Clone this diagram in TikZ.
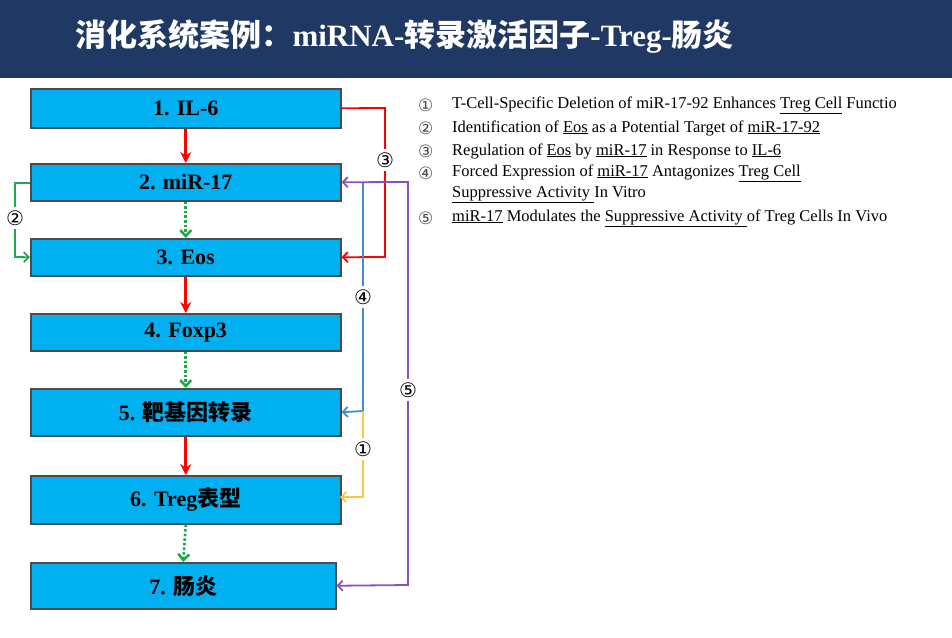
\documentclass[tikz,border=0pt]{standalone}
\usepackage{fontspec}
\setmainfont{Liberation Serif}
\newfontfamily\cjk{Noto Sans CJK SC}
\newfontfamily\dv{DejaVu Sans}
\usetikzlibrary{arrows.meta}
\definecolor{navy}{RGB}{31,56,100}
\definecolor{boxc}{RGB}{0,176,240}
\definecolor{bl}{RGB}{70,140,210}
\definecolor{yl}{RGB}{250,200,60}
\definecolor{pu}{RGB}{140,80,190}
\definecolor{gn}{RGB}{30,170,70}
\begin{document}
\begin{tikzpicture}[x=1pt,y=-1pt,
  bx/.style={draw=black!70,line width=1.5pt,fill=boxc,anchor=north west,inner sep=0pt,font=\fontsize{22}{24}\selectfont\bfseries},
  circ/.style={font=\dv\fontsize{20}{20}\selectfont},
  lg/.style={anchor=west,font=\fontsize{16.5}{17}\selectfont,inner sep=0pt},
  ln/.style={anchor=west,font=\dv\fontsize{17}{17}\selectfont\color{black!70},inner sep=0pt},
  ar/.style={-{Stealth[length=11pt,width=11pt]},line width=2.6pt,red},
  gr/.style={-{Straight Barb[length=6pt,width=11pt]},line width=2.6pt,dotted,gn},
  fb/.style={-{Straight Barb[length=5pt,width=10pt]},line width=1.8pt}]
\useasboundingbox (0,0) rectangle (952,637);
\fill[white] (0,0) rectangle (952,637);
\fill[navy] (0,0) rectangle (952,78);
\node[anchor=west,text=white,font=\cjk\fontsize{31}{33}\selectfont\bfseries] (title) at (72,36) {消化系统案例：\rmfamily\bfseries miRNA-\cjk 转录激活因子\rmfamily\bfseries -Treg-\cjk 肠炎};
\node[bx,minimum width=310pt,minimum height=39pt] (b1) at (30,88) {1. IL-6};
\node[bx,minimum width=310pt,minimum height=37pt] (b2) at (30,163) {2. miR-17};
\node[bx,minimum width=310pt,minimum height=37pt] (b3) at (30,238) {3. Eos};
\node[bx,minimum width=310pt,minimum height=37pt] (b4) at (30,313) {4. Foxp3};
\node[bx,minimum width=310pt,minimum height=47pt] (b5) at (30,388) {5. \cjk 靶基因转录};
\node[bx,minimum width=310pt,minimum height=48pt] (b6) at (30,475) {6. Treg\cjk 表型};
\node[bx,minimum width=305pt,minimum height=46pt] (b7) at (30,562) {7. \cjk 肠炎};
\draw[ar] (b1.south) -- (b2.north);
\draw[gr] (b2.south) -- (b3.north);
\draw[ar] (b3.south) -- (b4.north);
\draw[gr] (b4.south) -- (b5.north);
\draw[ar] (b5.south) -- (b6.north);
\draw[gr] (b6.south) -- (b7.north);
\node[circ] (c3) at (385,160) {③};
\node[circ] (c2) at (15,218) {②};
\node[circ] (c4) at (363,297) {④};
\node[circ] (c1) at (363,449) {①};
\node[circ] (c5) at (408,390) {⑤};
\draw[red,line width=1.8pt] (b1.east) -- (385,108) -- (c3.north);
\draw[fb,red] (c3.south) -- (385,257) -- (b3.east);
\draw[gn,line width=1.8pt] (30,183) -- (15,183) -- (c2.north);
\draw[fb,gn] (c2.south) -- (15,257) -- (b3.west);
\draw[bl,line width=1.8pt] (363,182) -- (c4.north);
\draw[fb,bl] (c4.south) -- (363,411) -- (b5.east);
\draw[yl,line width=1.8pt] (363,411) -- (c1.north);
\draw[fb,yl] (c1.south) -- (363,497) -- (340,497);
\draw[fb,pu] (c5.north) -- (408,182) -- (b2.east);
\draw[fb,pu] (c5.south) -- (408,585) -- (b7.east);
\node[ln] (n1) at (418,105) {①}; \node[lg] (t1) at (452,105) {T-Cell-Specific Deletion of miR-17-92 Enhances \underline{Treg Cell} Functio};
\node[ln] (n2) at (418,128) {②}; \node[lg] (t2) at (452,128) {Identification of \underline{Eos} as a Potential Target of \underline{miR-17-92}};
\node[ln] (n3) at (418,151) {③}; \node[lg] (t3) at (452,151) {Regulation of \underline{Eos} by \underline{miR-17} in Response to \underline{IL-6}};
\node[ln] (n4) at (418,173) {④}; \node[lg] (t4) at (452,173) {Forced Expression of \underline{miR-17} Antagonizes \underline{Treg Cell}};
\node[lg] (t4b) at (452,195) {\underline{Suppressive Activity }In Vitro};
\node[ln] (n5) at (418,218) {⑤}; \node[lg] (t5) at (452,218) {\underline{miR-17} Modulates the \underline{Suppressive Activity }of Treg Cells In Vivo};
\end{tikzpicture}
\end{document}
